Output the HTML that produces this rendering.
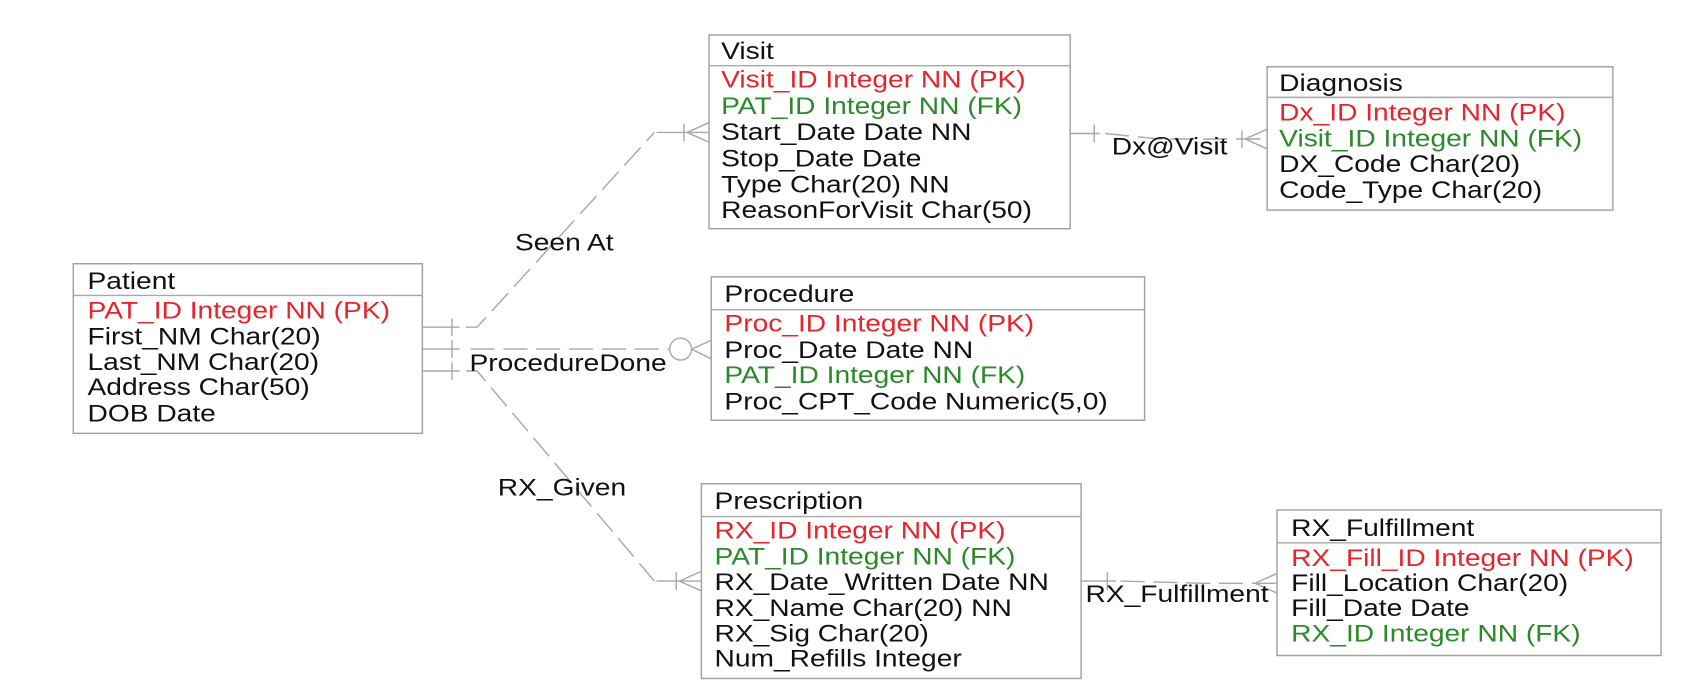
<!DOCTYPE html>
<html><head><meta charset="utf-8"><style>
html,body{margin:0;padding:0;background:#fff;overflow:hidden}
svg{display:block}
text{font-family:"Liberation Sans",Arial,sans-serif;font-size:22px;fill:#111}
.r{fill:#e8242b}.g{fill:#2a8a2a}
.box{fill:#fff;stroke:#a0a0a0;stroke-width:1.3}
.ln{stroke:#a8a8a8;stroke-width:1.3;fill:none}
.d{stroke:#a8a8a8;stroke-width:1.3;fill:none;stroke-dasharray:22 8}
</style></head><body>
<svg width="1707" height="696" viewBox="0 0 1560 636" preserveAspectRatio="none">
<g>
<line class="ln" x1="386" y1="299" x2="420" y2="299"/><line class="ln" x1="413" y1="291" x2="413" y2="307"/>
<line class="ln" x1="386" y1="319" x2="420" y2="319"/><line class="ln" x1="413" y1="311" x2="413" y2="327"/>
<line class="ln" x1="386" y1="339" x2="420" y2="339"/><line class="ln" x1="413" y1="331" x2="413" y2="347"/>
<polyline class="d" points="426,299 436,299 598,121"/>
<line class="ln" x1="600" y1="121" x2="648" y2="121"/><line class="ln" x1="625" y1="113" x2="625" y2="129"/>
<line class="ln" x1="628" y1="121" x2="648" y2="112"/><line class="ln" x1="628" y1="121" x2="648" y2="130"/>
<line class="d" x1="430" y1="319" x2="612" y2="319"/>
<circle class="ln" cx="622" cy="319" r="10"/>
<line class="ln" x1="632" y1="319" x2="650" y2="311"/><line class="ln" x1="632" y1="319" x2="650" y2="328"/>
<polyline class="d" points="426,339 436,339 598,531"/>
<line class="ln" x1="600" y1="531" x2="641" y2="531"/><line class="ln" x1="618" y1="523" x2="618" y2="539"/>
<line class="ln" x1="621" y1="531" x2="641" y2="522"/><line class="ln" x1="621" y1="531" x2="641" y2="540"/>
<line class="ln" x1="978" y1="122" x2="1005" y2="122"/><line class="ln" x1="1000" y1="114" x2="1000" y2="130"/>
<polyline class="d" points="1010,122 1060,127 1158,127"/>
<line class="ln" x1="1135" y1="119" x2="1135" y2="135"/>
<line class="ln" x1="1138" y1="127" x2="1158" y2="118"/><line class="ln" x1="1138" y1="127" x2="1158" y2="136"/>
<line class="ln" x1="988" y1="531" x2="1020" y2="531"/><line class="ln" x1="1012" y1="523" x2="1012" y2="539"/>
<polyline class="d" points="1024,531 1100,533 1167,533"/>
<line class="ln" x1="1147" y1="533" x2="1167" y2="524"/><line class="ln" x1="1147" y1="533" x2="1167" y2="542"/>
</g>

<rect class="box" x="67" y="241" width="319" height="155"/><line class="ln" x1="67" y1="270" x2="386" y2="270"/>
<rect class="box" x="648" y="32" width="330" height="177"/><line class="ln" x1="648" y1="60" x2="978" y2="60"/>
<rect class="box" x="1158" y="61" width="316" height="131"/><line class="ln" x1="1158" y1="89" x2="1474" y2="89"/>
<rect class="box" x="650" y="253" width="396" height="131"/><line class="ln" x1="650" y1="283" x2="1046" y2="283"/>
<rect class="box" x="641" y="442" width="347" height="178"/><line class="ln" x1="641" y1="472" x2="988" y2="472"/>
<rect class="box" x="1167" y="466" width="351" height="133"/><line class="ln" x1="1167" y1="496" x2="1518" y2="496"/>

<g transform="matrix(1.17,0,0,1,-81.6,0)"><text x="472" y="229">Seen At</text></g>
<g transform="matrix(1.17,0,0,1,-72.9,0)"><text x="429" y="339">ProcedureDone</text></g>
<g transform="matrix(1.17,0,0,1,-77.4,0)"><text x="455" y="453">RX_Given</text></g>
<g transform="matrix(1.17,0,0,1,-172.7,0)"><text x="1016" y="141">Dx@Visit</text></g>
<g transform="matrix(1.17,0,0,1,-168.6,0)"><text x="992" y="550">RX_Fulfillment</text></g>

<g transform="matrix(1.17,0,0,1,-13.6,0)">
<text x="80" y="264">Patient</text>
<text x="80" y="291" class="r">PAT_ID Integer NN (PK)</text>
<text x="80" y="315">First_NM Char(20)</text>
<text x="80" y="338">Last_NM Char(20)</text>
<text x="80" y="361">Address Char(50)</text>
<text x="80" y="385">DOB Date</text>
</g>
<g transform="matrix(1.17,0,0,1,-112.0,0)">
<text x="659" y="54">Visit</text>
<text x="659" y="80" class="r">Visit_ID Integer NN (PK)</text>
<text x="659" y="104" class="g">PAT_ID Integer NN (FK)</text>
<text x="659" y="128">Start_Date Date NN</text>
<text x="659" y="152">Stop_Date Date</text>
<text x="659" y="176">Type Char(20) NN</text>
<text x="659" y="199">ReasonForVisit Char(50)</text>
</g>
<g transform="matrix(1.17,0,0,1,-198.7,0)">
<text x="1169" y="83">Diagnosis</text>
<text x="1169" y="110" class="r">Dx_ID Integer NN (PK)</text>
<text x="1169" y="134" class="g">Visit_ID Integer NN (FK)</text>
<text x="1169" y="157">DX_Code Char(20)</text>
<text x="1169" y="181">Code_Type Char(20)</text>
</g>
<g transform="matrix(1.17,0,0,1,-112.5,0)">
<text x="662" y="276">Procedure</text>
<text x="662" y="303" class="r">Proc_ID Integer NN (PK)</text>
<text x="662" y="327">Proc_Date Date NN</text>
<text x="662" y="350" class="g">PAT_ID Integer NN (FK)</text>
<text x="662" y="374">Proc_CPT_Code Numeric(5,0)</text>
</g>
<g transform="matrix(1.17,0,0,1,-111.0,0)">
<text x="653" y="465">Prescription</text>
<text x="653" y="492" class="r">RX_ID Integer NN (PK)</text>
<text x="653" y="516" class="g">PAT_ID Integer NN (FK)</text>
<text x="653" y="539">RX_Date_Written Date NN</text>
<text x="653" y="563">RX_Name Char(20) NN</text>
<text x="653" y="586">RX_Sig Char(20)</text>
<text x="653" y="609">Num_Refills Integer</text>
</g>
<g transform="matrix(1.17,0,0,1,-200.6,0)">
<text x="1180" y="490">RX_Fulfillment</text>
<text x="1180" y="517" class="r">RX_Fill_ID Integer NN (PK)</text>
<text x="1180" y="540">Fill_Location Char(20)</text>
<text x="1180" y="563">Fill_Date Date</text>
<text x="1180" y="586" class="g">RX_ID Integer NN (FK)</text>
</g>
</svg>
</body></html>
